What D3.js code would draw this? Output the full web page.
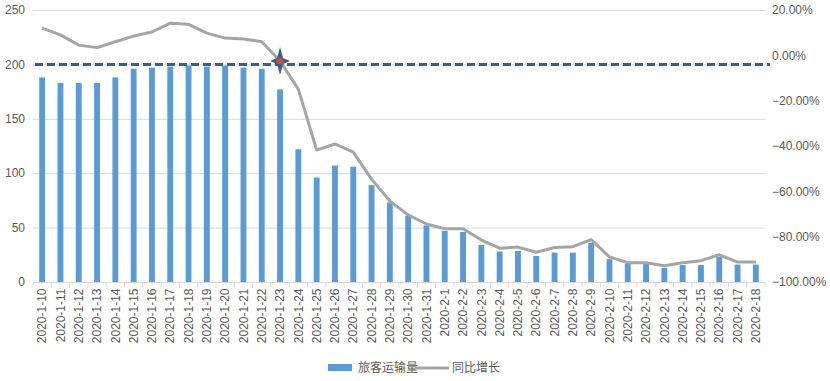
<!DOCTYPE html>
<html><head><meta charset="utf-8">
<script src="https://cdn.jsdelivr.net/npm/d3@7"></script>
<style>
body{margin:0;background:#fff;}
text{font-family:"Liberation Sans",Arial,sans-serif;fill:#595959;}
.cjk{font-family:"Noto Sans CJK SC",sans-serif;}
</style></head><body>
<svg id="c" width="830" height="381"></svg>
<script>
const categories = ["2020-1-10","2020-1-11","2020-1-12","2020-1-13","2020-1-14","2020-1-15","2020-1-16","2020-1-17","2020-1-18","2020-1-19","2020-1-20","2020-1-21","2020-1-22","2020-1-23","2020-1-24","2020-1-25","2020-1-26","2020-1-27","2020-1-28","2020-1-29","2020-1-30","2020-1-31","2020-2-1","2020-2-2","2020-2-3","2020-2-4","2020-2-5","2020-2-6","2020-2-7","2020-2-8","2020-2-9","2020-2-10","2020-2-11","2020-2-12","2020-2-13","2020-2-14","2020-2-15","2020-2-16","2020-2-17","2020-2-18"];
const passengers = [188,183,183,183,188,196,197,198,199,198,199,197,196,177,122,96,107,106,89,73,61,52,47,46,34,28,28.5,24,27,27,36,21,16.5,16.5,13,15.6,15.6,23,16,16];
const growth = [12.0,9.0,4.5,3.4,6.0,8.5,10.3,14.2,13.7,9.8,7.6,7.2,6.0,-2.5,-14.9,-41.8,-39.1,-42.7,-54.6,-64.3,-70.4,-74.4,-76.5,-76.5,-81.5,-85.1,-84.6,-86.9,-84.8,-84.4,-81.3,-88.9,-91.5,-91.5,-92.8,-91.5,-90.6,-88.0,-91.2,-91.2];
const leftTicks = [0,50,100,150,200,250];
const rightTicks = [-100,-80,-60,-40,-20,0,20];
const refValue = 200;
const markerCategory = "2020-1-23";
const seriesNames = ["旅客运输量","同比增长"];

const svg = d3.select("#c");
const L = 33, R = 765, T = 10, B = 282;
const x = d3.scaleBand().domain(categories).range([L, R]).paddingInner(0.68).paddingOuter(0.34);
const xb = d3.scaleBand().domain(categories).range([L, R]);
const yL = d3.scaleLinear().domain([0,250]).range([B, T]);
const yR = d3.scaleLinear().domain([-100,20]).range([B, T]);

// gridlines
svg.append("g").selectAll("line").data(leftTicks.filter(d=>d>0)).join("line")
  .attr("x1", L).attr("x2", R).attr("y1", d=>yL(d)+0.5).attr("y2", d=>yL(d)+0.5)
  .attr("stroke","#d9d9d9").attr("stroke-width",1);

// bars
svg.append("g").selectAll("rect").data(categories).join("rect")
  .attr("x", (d)=>x(d)).attr("width", x.bandwidth())
  .attr("y", (d,i)=>yL(passengers[i])).attr("height",(d,i)=>yL(0)-yL(passengers[i]))
  .attr("fill","#5b9bd5");

// x axis
const xAxis = svg.append("g").attr("transform",`translate(0,${B+0.5})`);
xAxis.append("line").attr("x1",L).attr("x2",R).attr("stroke","#d9d9d9");
xAxis.selectAll("line.t").data(categories.concat(["_end"])).join("line").attr("class","t")
  .attr("x1",(d,i)=>L + i*xb.bandwidth()).attr("x2",(d,i)=>L + i*xb.bandwidth())
  .attr("y1",0).attr("y2",5).attr("stroke","#d9d9d9");
xAxis.selectAll("text").data(categories).join("text")
  .attr("transform",d=>`translate(${xb(d)+xb.bandwidth()/2},6) rotate(-90)`)
  .attr("text-anchor","end").attr("dy","0.35em").attr("font-size",12).text(d=>d);

// left axis labels
svg.append("g").selectAll("text").data(leftTicks).join("text")
  .attr("x",25).attr("y",d=>yL(d)).attr("dy","0.35em").attr("text-anchor","end")
  .attr("font-size",12).text(d=>d);

// right axis labels
const fmt = d3.format(".2f");
svg.append("g").selectAll("text").data(rightTicks).join("text")
  .attr("x",772).attr("y",d=>yR(d)).attr("dy","0.35em").attr("text-anchor","start")
  .attr("font-size",12).text(d=>fmt(d)+"%");

// reference dashed line
svg.append("line").attr("x1",L+2).attr("x2",R+5).attr("y1",yL(refValue)).attr("y2",yL(refValue))
  .attr("stroke","#3d5f80").attr("stroke-width",3).attr("stroke-dasharray","8,4");

// growth line
const line = d3.line().x((d,i)=>xb(categories[i])+xb.bandwidth()/2).y(d=>yR(d));
svg.append("path").datum(growth).attr("d",line).attr("fill","none")
  .attr("stroke","#a5a5a5").attr("stroke-width",3).attr("stroke-linejoin","round");

// star marker
const mi = categories.indexOf(markerCategory);
const mx = xb(markerCategory)+xb.bandwidth()/2, my = yR(growth[mi]);
const starPts = [[0,-14],[3,-3],[10,0],[3,3],[0,14],[-3,3],[-10,0],[-3,-3]];
svg.append("path").attr("transform",`translate(${mx},${my})`)
  .attr("d", d3.line().curve(d3.curveLinearClosed)(starPts)).attr("fill","#3d5f80");
svg.append("circle").attr("cx",mx).attr("cy",my).attr("r",3.5).attr("fill","#c0504d");

// legend
const lg = svg.append("g");
lg.append("rect").attr("x",328).attr("y",364).attr("width",24).attr("height",7).attr("fill","#5b9bd5");
lg.append("text").attr("class","cjk").attr("x",358).attr("y",368).attr("dy","0.35em").attr("font-size",12).text(seriesNames[0]);
lg.append("line").attr("x1",415).attr("x2",449).attr("y1",368).attr("y2",368).attr("stroke","#a5a5a5").attr("stroke-width",3);
lg.append("text").attr("class","cjk").attr("x",452).attr("y",368).attr("dy","0.35em").attr("font-size",12).text(seriesNames[1]);
</script></body></html>
